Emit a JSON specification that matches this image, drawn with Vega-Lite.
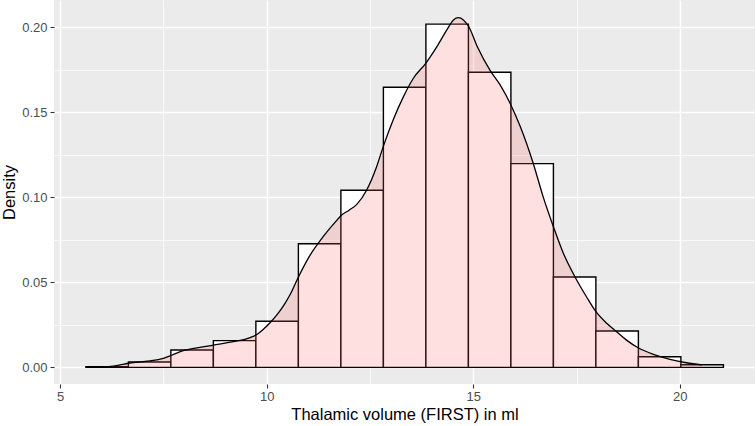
{
  "$schema": "https://vega.github.io/schema/vega-lite/v6.json",
  "width": 701,
  "height": 384,
  "autosize": {"type": "none"},
  "padding": {"left": 54, "top": 0, "right": 1, "bottom": 42},
  "background": "white",
  "config": {
    "font": "Liberation Sans",
    "view": {"fill": "#EBEBEB", "stroke": null},
    "axis": {
      "domain": false,
      "grid": true,
      "gridColor": "white",
      "labelColor": "#4D4D4D",
      "labelFontSize": 13,
      "tickColor": "#333333",
      "tickWidth": 1.1,
      "titleColor": "black",
      "titleFontSize": 16.5,
      "titleFontWeight": "normal"
    }
  },
  "datasets": {
    "bins": [
      {"x0": 5.622, "x1": 6.651, "density": 0.0004},
      {"x0": 6.651, "x1": 7.679, "density": 0.0031},
      {"x0": 7.679, "x1": 8.708, "density": 0.0102},
      {"x0": 8.708, "x1": 9.737, "density": 0.0157},
      {"x0": 9.737, "x1": 10.766, "density": 0.0271},
      {"x0": 10.766, "x1": 11.795, "density": 0.0727},
      {"x0": 11.795, "x1": 12.824, "density": 0.1041},
      {"x0": 12.824, "x1": 13.853, "density": 0.1647},
      {"x0": 13.853, "x1": 14.882, "density": 0.2018},
      {"x0": 14.882, "x1": 15.911, "density": 0.1735},
      {"x0": 15.911, "x1": 16.94, "density": 0.1198},
      {"x0": 16.94, "x1": 17.968, "density": 0.0531},
      {"x0": 17.968, "x1": 18.997, "density": 0.0214},
      {"x0": 18.997, "x1": 20.026, "density": 0.0062},
      {"x0": 20.026, "x1": 21.055, "density": 0.0015}
    ],
    "dens": [
      {"x": 6.136, "d": 0.0003},
      {"x": 6.4, "d": 0.0012},
      {"x": 6.65, "d": 0.0024},
      {"x": 6.9, "d": 0.0031},
      {"x": 7.18, "d": 0.0038},
      {"x": 7.5, "d": 0.0053},
      {"x": 7.7, "d": 0.0071},
      {"x": 7.98, "d": 0.0098},
      {"x": 8.31, "d": 0.0115},
      {"x": 8.71, "d": 0.0131},
      {"x": 9.19, "d": 0.0151},
      {"x": 9.6, "d": 0.0175},
      {"x": 9.74, "d": 0.019},
      {"x": 9.9, "d": 0.022},
      {"x": 10.08, "d": 0.0262},
      {"x": 10.25, "d": 0.031},
      {"x": 10.4, "d": 0.036},
      {"x": 10.57, "d": 0.043},
      {"x": 10.77, "d": 0.0533},
      {"x": 11.05, "d": 0.066},
      {"x": 11.37, "d": 0.077},
      {"x": 11.7, "d": 0.0866},
      {"x": 11.79, "d": 0.089},
      {"x": 12.0, "d": 0.0925},
      {"x": 12.18, "d": 0.0958},
      {"x": 12.42, "d": 0.1043},
      {"x": 12.66, "d": 0.118},
      {"x": 12.82, "d": 0.1298},
      {"x": 13.06, "d": 0.1455},
      {"x": 13.31, "d": 0.1592},
      {"x": 13.55, "d": 0.17},
      {"x": 13.85, "d": 0.1788},
      {"x": 14.12, "d": 0.1886},
      {"x": 14.36, "d": 0.1984},
      {"x": 14.52, "d": 0.2043},
      {"x": 14.64, "d": 0.2056},
      {"x": 14.76, "d": 0.2043},
      {"x": 14.89, "d": 0.2004},
      {"x": 15.09, "d": 0.189},
      {"x": 15.41, "d": 0.1745},
      {"x": 15.65, "d": 0.1661},
      {"x": 15.91, "d": 0.1543},
      {"x": 16.13, "d": 0.142},
      {"x": 16.45, "d": 0.12},
      {"x": 16.69, "d": 0.1004},
      {"x": 16.94, "d": 0.0827},
      {"x": 17.18, "d": 0.0671},
      {"x": 17.46, "d": 0.0533},
      {"x": 17.74, "d": 0.0415},
      {"x": 17.97, "d": 0.0327},
      {"x": 18.23, "d": 0.0259},
      {"x": 18.47, "d": 0.0209},
      {"x": 18.71, "d": 0.016},
      {"x": 18.99, "d": 0.0115},
      {"x": 19.36, "d": 0.0076},
      {"x": 19.76, "d": 0.0047},
      {"x": 20.16, "d": 0.0027},
      {"x": 20.54, "d": 0.0015}
    ]
  },
  "layer": [
    {
      "data": {"name": "bins"},
      "mark": {"type": "rect", "fill": "white", "stroke": "black", "strokeWidth": 1.4},
      "encoding": {
        "x": {
          "field": "x0", "type": "quantitative",
          "scale": {"domain": [4.85, 21.82], "nice": false, "zero": false},
          "axis": {
            "title": "Thalamic volume (FIRST) in ml",
            "values": [5, 7.5, 10, 12.5, 15, 17.5, 20],
            "labelExpr": "datum.value % 5 === 0 ? datum.label : ''",
            "format": "d",
            "gridWidth": {"condition": {"test": "datum.value % 5 === 0", "value": 1.5}, "value": 0.75},
            "tickOpacity": {"condition": {"test": "datum.value % 5 === 0", "value": 1}, "value": 0},
            "tickSize": 4,
            "labelPadding": 2,
            "titlePadding": 3
          }
        },
        "x2": {"field": "x1"},
        "y": {
          "field": "density", "type": "quantitative",
          "scale": {"domain": [-0.0098, 0.216], "nice": false, "zero": false},
          "axis": {
            "title": "Density",
            "values": [0, 0.025, 0.05, 0.075, 0.1, 0.125, 0.15, 0.175, 0.2],
            "labelExpr": "round(datum.value * 1000) % 50 === 0 ? datum.label : ''",
            "format": ".2f",
            "gridWidth": {"condition": {"test": "round(datum.value * 1000) % 50 === 0", "value": 1.5}, "value": 0.75},
            "tickOpacity": {"condition": {"test": "round(datum.value * 1000) % 50 === 0", "value": 1}, "value": 0},
            "tickSize": 4,
            "labelPadding": 3,
            "titlePadding": 4
          }
        },
        "y2": {"datum": 0}
      }
    },
    {
      "data": {"name": "dens"},
      "mark": {"type": "area", "fill": "#FF6666", "fillOpacity": 0.2, "interpolate": "monotone"},
      "encoding": {
        "x": {"field": "x", "type": "quantitative"},
        "y": {"field": "d", "type": "quantitative"}
      }
    },
    {
      "data": {"name": "dens"},
      "mark": {"type": "line", "color": "black", "strokeWidth": 1.3, "interpolate": "monotone"},
      "encoding": {
        "x": {"field": "x", "type": "quantitative"},
        "y": {"field": "d", "type": "quantitative"}
      }
    }
  ]
}
